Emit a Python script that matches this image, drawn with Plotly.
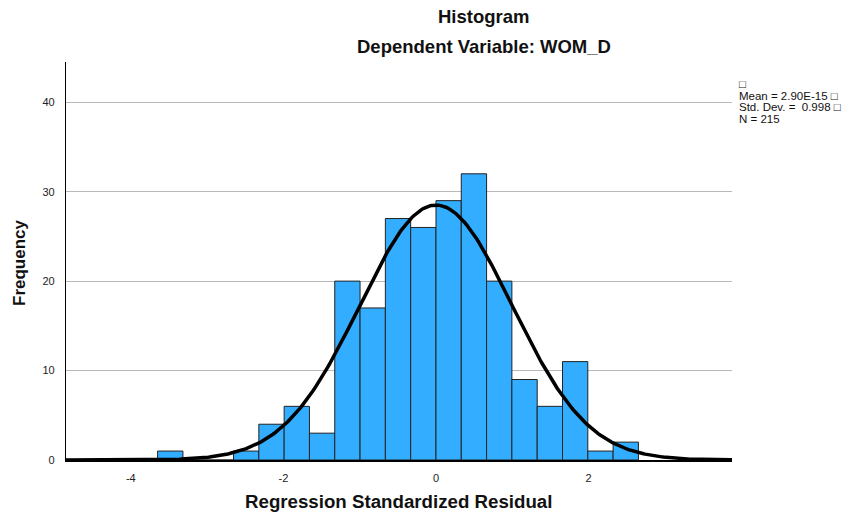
import numpy as np
import plotly.graph_objects as go

# ---- data ----
bin_start = -3.649
bin_width = 0.3317
counts = [1, 0, 0, 1, 4, 6, 3, 20, 17, 27, 26, 29, 32, 20, 9, 6, 11, 1, 2]
mean_val = 2.90e-15
std_val = 0.998
n_val = 215
x_ticks = [-4, -2, 0, 2]
y_ticks = [0, 10, 20, 30, 40]
legend_lines = ["\u25a1", "Mean = 2.90E-15 \u25a1", "Std. Dev. =\u00a0\u00a00.998 \u25a1", "N = 215"]

centers = [bin_start + bin_width * (i + 0.5) for i in range(len(counts))]

x_range = [-4.85, 3.88]
y_range = [0, 44.5]

xs = np.linspace(x_range[0], x_range[1], 400)
ys = n_val * bin_width * np.exp(-0.5 * ((xs - mean_val) / std_val) ** 2) / (std_val * np.sqrt(2 * np.pi))

FONT = "Liberation Sans, Arial, sans-serif"

L, R, T, B = 66, 112, 62, 53
W, H = 844, 513
plot_w = W - L - R
plot_h = H - T - B

def px_x(p):
    return (p - L) / plot_w

def px_y(p):
    return 1 - (p - T) / plot_h

fig = go.Figure()
fig.add_trace(go.Bar(
    x=centers, y=counts, width=bin_width,
    marker=dict(color="#33adff", line=dict(color="#222222", width=1)),
    hoverinfo="skip", showlegend=False,
))
fig.add_trace(go.Scatter(
    x=xs, y=ys, mode="lines",
    line=dict(color="black", width=3.5),
    hoverinfo="skip", showlegend=False,
))

anns = [
    dict(text="<b>Histogram</b>", x=px_x(484), y=px_y(16)),
    dict(text="<b>Dependent Variable: WOM_D</b>", x=px_x(484), y=px_y(46)),
]
anns = [dict(a, xref="paper", yref="paper", showarrow=False, xanchor="center", yanchor="middle",
             font=dict(size=18.5, color="#111111", family=FONT)) for a in anns]
anns.append(dict(text="<b>Regression Standardized Residual</b>", x=px_x(398), y=px_y(501),
                 xref="paper", yref="paper", showarrow=False, xanchor="center", yanchor="middle",
                 font=dict(size=18.7, color="#111111", family=FONT)))
anns.append(dict(text="<b>Frequency</b>", x=px_x(19), y=px_y(262), textangle=-90,
                 xref="paper", yref="paper", showarrow=False, xanchor="center", yanchor="middle",
                 font=dict(size=17, color="#111111", family=FONT)))
legend_y = [84, 96, 107, 119]
for txt, py in zip(legend_lines, legend_y):
    anns.append(dict(text=txt, showarrow=False, xref="paper", yref="paper",
                     x=px_x(737), y=px_y(py), xanchor="left", yanchor="middle",
                     font=dict(size=11.5, color="#111111", family=FONT)))

fig.update_layout(
    width=W, height=H,
    margin=dict(l=L, r=R, t=T, b=B),
    paper_bgcolor="white", plot_bgcolor="white",
    font=dict(family=FONT, color="#222222", size=11),
    xaxis=dict(
        range=x_range, tickvals=x_ticks, ticktext=[str(v) for v in x_ticks],
        showgrid=False, zeroline=False, showline=True, linecolor="black", linewidth=2,
        ticks="outside", ticklen=7, tickcolor="rgba(0,0,0,0)",
        tickfont=dict(size=11, color="#222222"), automargin=False,
    ),
    yaxis=dict(
        range=y_range, tickvals=y_ticks, ticktext=[str(v) for v in y_ticks],
        showgrid=True, gridcolor="#b8b8b8", gridwidth=1.2, zeroline=False,
        showline=True, linecolor="black", linewidth=1.2,
        ticks="outside", ticklen=8, tickcolor="rgba(0,0,0,0)",
        tickfont=dict(size=11, color="#222222"), automargin=False,
    ),
    annotations=anns,
)

fig.write_html("out.html")
